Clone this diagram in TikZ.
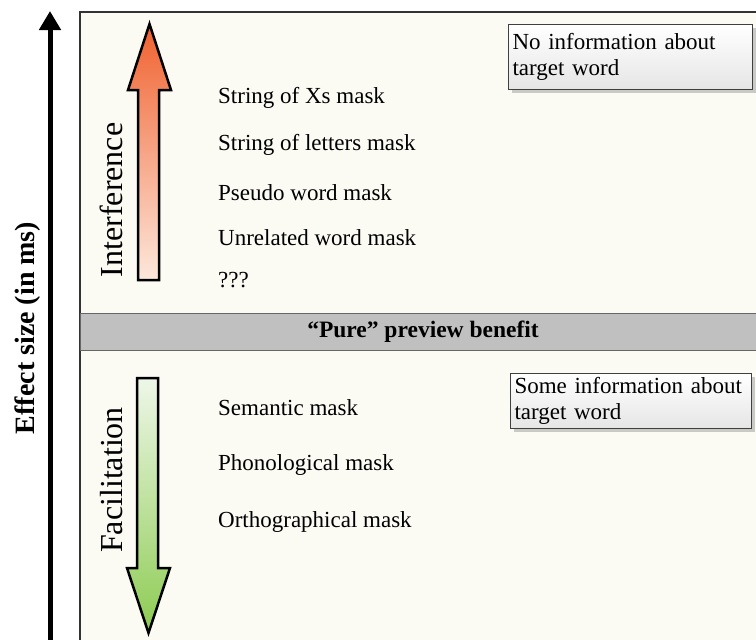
\documentclass[tikz,border=0pt]{standalone}
\usepackage{fontspec}
\setmainfont{Liberation Serif}
\usetikzlibrary{arrows.meta,shadows}
\definecolor{panel}{HTML}{FBFAF3}
\definecolor{band}{HTML}{C0C0C0}
\definecolor{hotred}{HTML}{F0612F}
\definecolor{palered}{HTML}{FDE8DC}
\definecolor{palegreen}{HTML}{EEF7E8}
\definecolor{leaf}{HTML}{8DCB52}
\tikzset{
	masklabel/.style={anchor=base west,inner sep=0pt,font=\fontsize{23}{27}\selectfont},
	sidelabel/.style={rotate=90,inner sep=0pt,font=\fontsize{32}{36}\selectfont},
	infobox/.style={draw=black!75,line width=1pt,top color=white,bottom color=black!10,
		drop shadow={shadow xshift=3pt,shadow yshift=-3pt,opacity=0.4},
		anchor=north west,align=left,inner sep=4pt,font=\fontsize{23}{26}\selectfont},
	blockarrow/.style={draw=black,line width=2.5pt,line join=miter}
}
\begin{document}
\begin{tikzpicture}[x=1pt,y=-1pt]
			\useasboundingbox (0,0) rectangle (756,640);
			\clip (0,0) rectangle (756,640);
			% panel and middle band
			\draw[fill=panel,draw=black!80,line width=1.5pt] (80,12) rectangle (780,660);
			\draw[fill=band,draw=black!60,line width=1pt] (80,313) rectangle (780,350);
			\node[font=\bfseries\fontsize{23.5}{27}\selectfont] (pure) at (423,332) {“Pure” preview benefit};

			% effect size axis
			\coordinate (axisfoot) at (50,660);
			\coordinate (axistop) at (50,11);
			\draw[line width=5pt,-{Triangle[width=21pt,length=19pt]}] (axisfoot) -- (axistop);
			\node[rotate=90,font=\bfseries\fontsize{28}{32}\selectfont] (effect) at (28,328) {Effect size (in ms)};

			% block arrows
			\path[blockarrow,top color=hotred,bottom color=palered]
				(138,280) -- (138,90) -- (128,90) -- (149.5,24) -- (171,90) -- (159,90) -- (159,280) -- cycle;
			\path[blockarrow,top color=palegreen,bottom color=leaf]
				(137,378) -- (158,378) -- (158,568) -- (170,568) -- (148.5,633) -- (127,568) -- (137,568) -- cycle;
			\node[sidelabel] (interf) at (111,200) {Interference};
			\node[sidelabel] (facil) at (112,480) {Facilitation};

			% masks
			\foreach \name/\y/\txt in {xs/103/String of Xs mask,letters/150/String of letters mask,
				pseudo/200/Pseudo word mask,unrelated/245/Unrelated word mask,unknown/287/???,
				semantic/415/Semantic mask,phono/470/Phonological mask,ortho/527/Orthographical mask}{
			\node[masklabel] (\name) at (218,\y) {\txt};
			}

			% info boxes
			\node[infobox,text width=236pt,minimum height=65pt] (noinfo) at (508,24) {No information about\\target word};
			\node[infobox,text width=233pt,minimum height=55pt] (someinfo) at (510,373) {Some information about\\target word};
		\end{tikzpicture}
\end{document}
